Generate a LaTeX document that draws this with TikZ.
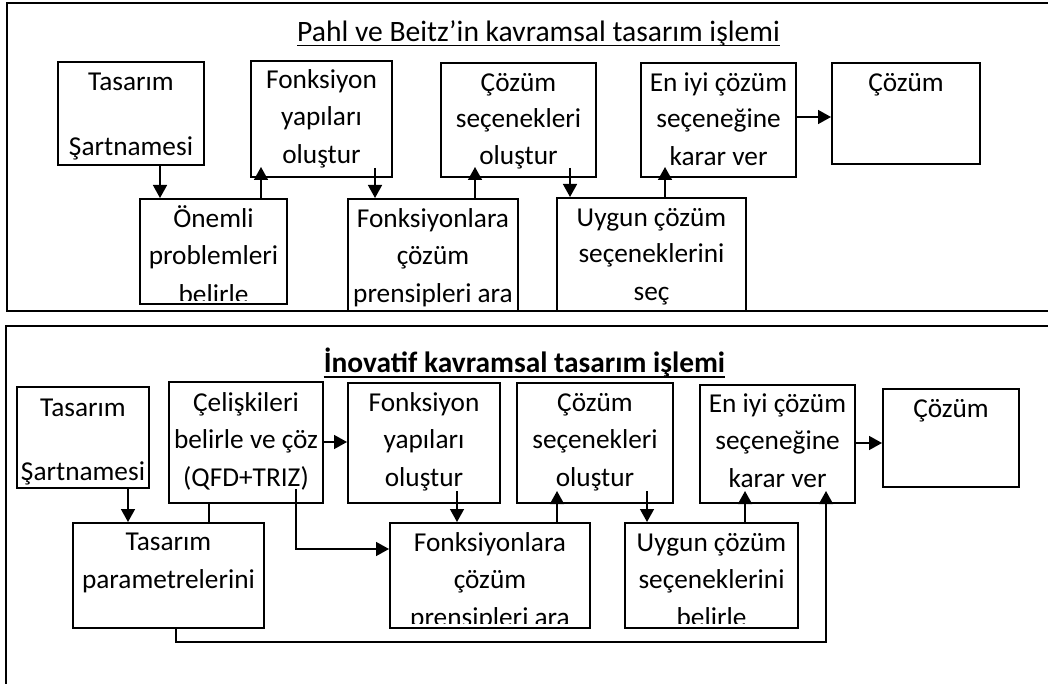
\documentclass[tikz,border=0pt]{standalone}
\usepackage{fontspec}
\setmainfont{Carlito}
\usetikzlibrary{arrows.meta,calc}
\newcommand\mkbox[5]{\node[box, minimum width={(#4)-(#2)}, minimum height={(#5)-(#3)}] (#1) at ({((#2)+(#4))/2},{((#3)+(#5))/2}) {};}
\newcommand\bxline[3]{\node[txt] (#1-#2) at (#1.center |- 0,#2) {#3};}
\begin{document}
\begin{tikzpicture}[x=1pt,y=-1pt,
  box/.style={draw, line width=2pt, inner sep=0pt},
  frame/.style={line width=2.2pt},
  txt/.style={anchor=base, inner sep=0pt, font=\fontsize{27.3}{37}\selectfont},
  ttl/.style={anchor=base, inner sep=0pt, font=\fontsize{29.6}{37}\selectfont},
  arr/.style={line width=1.5pt, -{Triangle[length=13pt,width=14pt]}},
  conn/.style={line width=1.5pt}]
\useasboundingbox (0,0) rectangle (1048,684);
\clip (0,0) rectangle (1048,684);
% ---------- top panel ----------
\draw[frame] (1060,3) -- (7,3) -- (7,311) -- (1060,311);
\node[ttl] (t1) at (538.5,42) {Pahl ve Beitz’in kavramsal tasarım işlemi};
\draw[line width=1.4pt] ([yshift=-3.5pt]t1.base west) -- ([yshift=-3.5pt]t1.base east);
\mkbox{b1}{58}{62}{204}{165}
\mkbox{b2}{251}{61}{392}{177}
\mkbox{b3}{441}{63}{596}{177}
\mkbox{b4}{641}{63}{796}{177}
\mkbox{b5}{832}{63}{980}{164}
\mkbox{b6}{140}{199}{287}{304}
\mkbox{b7}{348}{199}{518}{311}
\mkbox{b8}{557}{198}{746}{311}
\bxline{b1}{91}{Tasarım}
\bxline{b1}{156}{Şartnamesi}
\bxline{b2}{89}{Fonksiyon}
\bxline{b2}{126}{yapıları}
\bxline{b2}{164}{oluştur}
\bxline{b3}{92}{Çözüm}
\bxline{b3}{128}{seçenekleri}
\bxline{b3}{165}{oluştur}
\bxline{b4}{92}{En iyi çözüm}
\bxline{b4}{128}{seçeneğine}
\bxline{b4}{166}{karar ver}
\bxline{b5}{92}{Çözüm}
\begin{scope}
\clip (140,199) rectangle (287,300);
\bxline{b6}{228}{Önemli}
\bxline{b6}{265}{problemleri}
\bxline{b6}{303}{belirle}
\end{scope}
\begin{scope}
\clip (348,199) rectangle (746,310);
\bxline{b7}{228}{Fonksiyonlara}
\bxline{b7}{265}{çözüm}
\bxline{b7}{302}{prensipleri ara}
\bxline{b8}{227}{Uygun çözüm}
\bxline{b8}{263}{seçeneklerini}
\bxline{b8}{300}{seç}
\end{scope}
\draw[arr] (b1.south -| 160,0) -- (b6.north -| 160,0);
\draw[arr] (b6.north -| 261,0) -- ($(b2.south -| 261,0)+(0,-11)$);
\draw[arr] ($(b2.south -| 375,0)+(0,-10)$) -- (b7.north -| 375,0);
\draw[arr] (b7.north -| 475,0) -- ($(b3.south -| 475,0)+(0,-11)$);
\draw[arr] ($(b3.south -| 570,0)+(0,-10)$) -- (b8.north -| 570,0);
\draw[arr] (b8.north -| 665,0) -- ($(b4.south -| 665,0)+(0,-11)$);
\draw[arr] (b4.east |- 0,117) -- (b5.west |- 0,117);
% ---------- bottom panel ----------
\draw[frame] (1060,326) -- (6,326) -- (6,700);
\node[ttl, font=\fontsize{29.4}{37}\selectfont\bfseries] (t2) at (524.5,372) {İnovatif kavramsal tasarım işlemi};
\draw[line width=2.2pt] ([yshift=-5pt]t2.base west) -- ([yshift=-5pt]t2.base east);
\mkbox{bA}{17}{387}{149}{488}
\mkbox{bB}{169}{382}{323}{503}
\mkbox{bC}{348}{383}{500}{503}
\mkbox{bD}{517}{383}{673}{503}
\mkbox{bE}{700}{385}{855}{503}
\mkbox{bF}{883}{389}{1019}{487}
\mkbox{bG}{73}{523}{264}{628}
\mkbox{bH}{390}{523}{590}{628}
\mkbox{bI}{625}{523}{798}{628}
\bxline{bA}{416}{Tasarım}
\bxline{bA}{480}{Şartnamesi}
\bxline{bB}{411}{Çelişkileri}
\bxline{bB}{448}{belirle ve çöz}
\bxline{bB}{486}{(QFD+TRIZ)}
\bxline{bC}{411}{Fonksiyon}
\bxline{bC}{448}{yapıları}
\bxline{bC}{486}{oluştur}
\bxline{bD}{411}{Çözüm}
\bxline{bD}{448}{seçenekleri}
\bxline{bD}{486}{oluştur}
\bxline{bE}{412}{En iyi çözüm}
\bxline{bE}{449}{seçeneğine}
\bxline{bE}{487}{karar ver}
\bxline{bF}{417}{Çözüm}
\bxline{bG}{550}{Tasarım}
\bxline{bG}{588}{parametrelerini}
\begin{scope}
\clip (390,523) rectangle (798,623);
\bxline{bH}{551}{Fonksiyonlara}
\bxline{bH}{588}{çözüm}
\bxline{bH}{626}{prensipleri ara}
\bxline{bI}{551}{Uygun çözüm}
\bxline{bI}{588}{seçeneklerini}
\bxline{bI}{626}{belirle}
\end{scope}
\draw[arr] (bA.south -| 128,0) -- (bG.north -| 128,0);
\draw[conn] (bB.south -| 209,0) -- (bG.north -| 209,0);
\draw[arr] ($(bB.south -| 296,0)+(0,-15)$) |- (bH.west |- 0,549);
\draw[arr] ($(bC.south -| 457,0)+(0,-13)$) -- (bH.north -| 457,0);
\draw[arr] (bH.north -| 557,0) -- ($(bD.south -| 557,0)+(0,-13)$);
\draw[arr] ($(bD.south -| 647,0)+(0,-13)$) -- (bI.north -| 647,0);
\draw[arr] (bI.north -| 745,0) -- ($(bE.south -| 745,0)+(0,-13)$);
\draw[arr] (bB.east |- 0,442) -- (bC.west |- 0,442);
\draw[arr] (bE.east |- 0,443) -- (bF.west |- 0,443);
\coordinate (gbend) at (176,642);
\draw[arr] (bG.south -| 176,0) -- (gbend) -| ($(bE.south -| 826,0)+(0,-13)$);
\end{tikzpicture}
\end{document}
